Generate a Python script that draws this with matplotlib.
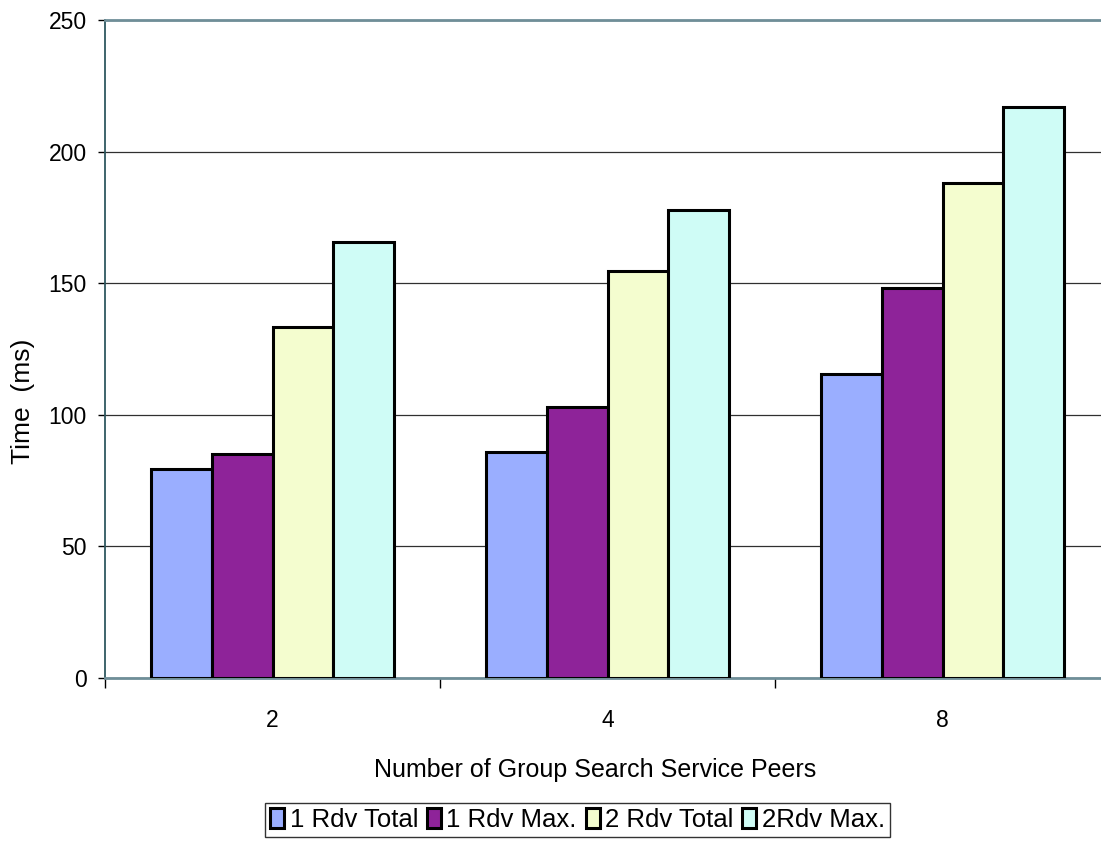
import matplotlib.pyplot as plt
import numpy as np

plt.rcParams['font.family'] = ['Liberation Sans', 'DejaVu Sans']

peers = ['2', '4', '8']
series = ['1 Rdv Total', '1 Rdv Max.', '2 Rdv Total', '2Rdv Max.']
rdv1_total = [79.5, 86, 115.5]
rdv1_max = [85, 103, 148]
rdv2_total = [133.5, 154.5, 188]
rdv2_max = [165.5, 178, 217]
colors = ['#9aaeff', '#8e2399', '#f4fdcf', '#cffcf6']

fig = plt.figure(figsize=(11.01, 8.44), dpi=100)
ax = fig.add_axes([105 / 1101, 1 - 678 / 844, 1005 / 1101, 658 / 844])

x = np.arange(len(peers))
w = 0.182
for i, (vals, c, name) in enumerate(zip([rdv1_total, rdv1_max, rdv2_total, rdv2_max], colors, series)):
    ax.bar(x + (i - 1.5) * w, vals, w, color=c, edgecolor='black', linewidth=2.2,
           label=name, zorder=3)

ax.set_xlim(-0.5, 2.5)
ax.set_ylim(0, 250)
ax.set_yticks(range(0, 251, 50))
ax.yaxis.grid(True, color='#303030', linewidth=0.9, zorder=0)

# category labels centred, tick marks on the boundaries
ax.set_xticks(x)
ax.set_xticklabels(peers)
ax.tick_params(axis='x', length=0, pad=22, labelsize=16.5)
ax.set_xticks([-0.5, 0.5, 1.5, 2.5], minor=True)
ax.tick_params(axis='x', which='minor', length=7, width=1, color='black', direction='out')
ax.tick_params(axis='y', length=5, width=1, labelsize=16.5, pad=8)

ax.spines['right'].set_visible(False)
ax.spines['top'].set_color('#6f8e98')
ax.spines['top'].set_linewidth(2.0)
ax.spines['left'].set_color('#2f5860')
ax.spines['left'].set_linewidth(1.3)
ax.spines['bottom'].set_color('#6f8e98')
ax.spines['bottom'].set_linewidth(2.0)

ax.set_ylabel('Time  (ms)', fontsize=19)
ax.yaxis.set_label_coords((35 - 105) / 1005, (678 - 401) / 658)
ax.set_xlabel('Number of Group Search Service Peers', fontsize=18, va='baseline')
ax.xaxis.set_label_coords((595 - 105) / 1005, (678 - 777) / 658)

leg = fig.legend(loc='upper center', bbox_to_anchor=(577.5 / 1101, 1 - 803 / 844), ncol=4,
                 fontsize=18.5, frameon=True, fancybox=False, edgecolor='black',
                 handlelength=0.55, handleheight=0.8, handletextpad=0.2,
                 columnspacing=0.35, borderpad=0.2, borderaxespad=0)
leg.get_frame().set_linewidth(1.0)

fig.savefig('out.png', dpi=100)
